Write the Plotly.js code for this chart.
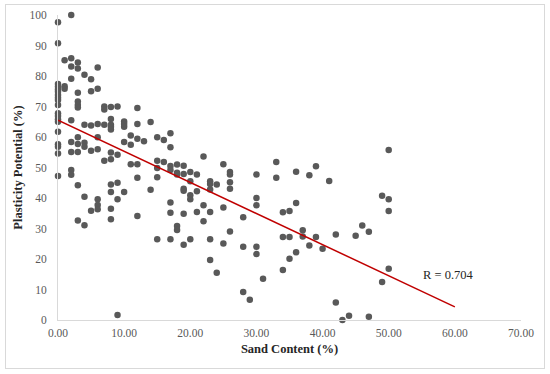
<!DOCTYPE html>
<html><head><meta charset="utf-8">
<script src="https://cdn.plot.ly/plotly-3.0.1.min.js"></script>
<style>
body{margin:0;background:#fff;}
#frame{position:absolute;left:5px;top:4px;width:538px;height:363px;border:1px solid #d9d9d9;}
#chart{position:absolute;left:0;top:0;width:550px;height:374px;}
</style></head>
<body><div id="frame"></div><div id="chart"></div>
<script>
// Sand content (%) and plasticity potential (%) samples
const sandContent = [
  0,0,0,0,0,0,0,0,0,0,0,0,0,0,0,0,0,0,0,
  1,1,1,
  2,2,2,2,2,2,2,2,2,
  3,3,3,3,3,3,3,3,3,3,3,
  4,4,4,4,4,4,
  5,5,5,5,5,
  6,6,6,6,6,6,6,6,
  7,7,7,7,
  8,8,8,8,8,8,8,8,8,8,8,
  9,9,9,9,9,
  10,10,10,10,10,
  11,11,11,
  12,12,12,12,12,12,
  13,
  14,14,
  15,15,15,15,15,
  16,16,
  17,17,17,17,17,17,17,
  18,18,18,18,18,
  19,19,19,19,19,19,
  20,20,20,20,20,
  21,21,21,
  22,22,22,
  23,23,23,23,23,23,
  24,24,
  25,25,25,
  26,26,26,26,26,
  28,28,28,
  29,
  30,30,30,30,30,
  31,
  33,33,
  34,34,34,
  35,35,35,
  36,36,36,
  37,37,
  38,38,
  39,39,
  40,
  41,
  42,42,
  43,
  44,
  45,
  46,
  47,47,
  49,49,
  50,50,50,50
];
const plasticity = [
  97.6,90.7,77.4,76.5,75.6,74.8,73.8,72.9,72.1,70.5,67.8,66.9,65.8,65.0,61.7,57.6,56.8,54.6,47.2,
  85.2,76.6,75.8,
  100,85.8,83.1,79.1,65.5,58.4,55.1,49.2,47.6,
  84.4,82.5,74.5,71.6,70.5,69.7,59.9,57.7,55.1,44.2,32.6,
  80.4,64.0,58.1,56.8,40.4,31.1,
  78.9,75.0,63.8,55.5,35.8,
  82.8,75.8,64.3,59.9,56.0,39.6,37.7,36.3,
  70.0,69.0,64.0,52.2,
  69.8,65.9,64.0,63.4,62.5,54.9,52.7,44.4,42.0,36.5,33.0,
  70.0,54.2,45.0,39.6,1.6,
  65.1,64.3,63.4,58.4,42.0,
  60.5,57.5,51.1,
  69.5,64.3,59.4,51.1,46.6,34.1,
  58.6,
  64.9,42.7,
  59.9,52.2,49.8,46.8,26.5,
  59.0,51.8,
  61.2,56.6,50.5,49.2,38.5,35.2,26.5,
  51.0,48.3,47.7,30.8,29.5,24.7,
  50.6,47.9,43.0,42.4,34.8,26.5,
  48.5,45.5,40.9,39.6,35.4,
  47.7,42.2,32.4,
  53.6,37.6,35.4,
  45.5,44.6,42.8,26.5,19.7,15.5,
  44.4,25.1,
  51.1,36.9,29.0,
  48.5,47.7,45.2,43.0,33.7,
  24.0,9.2,6.6,
  40.0,
  47.7,37.6,24.0,21.6,13.5,
  46.6,
  51.8,16.4,
  35.3,27.2,20.1,
  35.7,27.2,22.2,
  48.6,38.4,27.4,
  29.4,24.4,
  47.5,27.2,
  50.4,23.4,
  45.6,
  28.0,
  5.7,0.0,
  1.4,
  27.6,
  31.0,
  1.1,
  28.9,12.5,
  40.7,39.6,
  55.7,35.7,16.8,14.7
];
// Linear trend line endpoints
const trendX = [0, 60];
const trendY = [65.5, 4.3];
const rLabel = "R = 0.704";
const xTicks = [0,10,20,30,40,50,60,70];
const yTicks = [0,10,20,30,40,50,60,70,80,90,100];

const font = "Liberation Serif, Times New Roman, serif";
const traces = [
  {x: sandContent, y: plasticity, mode: 'markers', type: 'scatter', cliponaxis: false,
   marker: {color: '#595959', size: 6.5}, hoverinfo: 'x+y'},
  {x: trendX, y: trendY, mode: 'lines', type: 'scatter',
   line: {color: '#c00000', width: 1.5}}
];
const layout = {
  width: 550, height: 374,
  margin: {l: 58, r: 29, t: 15, b: 54},
  paper_bgcolor: 'rgba(0,0,0,0)', plot_bgcolor: 'rgba(0,0,0,0)',
  showlegend: false,
  font: {family: font, color: '#595959', size: 11},
  xaxis: {range: [0, 70], tickvals: xTicks, ticktext: xTicks.map(v => v.toFixed(2)),
    showgrid: false, zeroline: false, showline: true, linecolor: '#d9d9d9', linewidth: 1,
    ticks: 'outside', ticklen: 2, tickcolor: 'rgba(0,0,0,0)',
    tickfont: {family: font, size: 11.5, color: '#595959'},
    title: {text: '<b>Sand Content (%)</b>', font: {family: font, size: 12.5, color: '#262626'}, standoff: 6}},
  yaxis: {range: [0, 100], tickvals: yTicks,
    showgrid: false, zeroline: false, showline: true, linecolor: '#d9d9d9', linewidth: 1,
    ticks: 'outside', ticklen: 8, tickcolor: 'rgba(0,0,0,0)',
    tickfont: {family: font, size: 11.5, color: '#595959'},
    title: {text: '<b>Plasticity Potential (%)</b>', font: {family: font, size: 12.5, color: '#262626'}, standoff: 4}},
  annotations: [{x: 59, y: 14.8, xref: 'x', yref: 'y', text: rLabel, showarrow: false,
    font: {family: font, size: 12.5, color: '#262626'}}]
};
Plotly.newPlot('chart', traces, layout, {displayModeBar: false, staticPlot: true});
</script></body></html>
